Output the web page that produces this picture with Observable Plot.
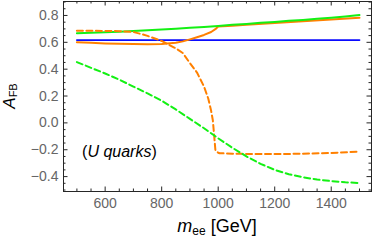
<!DOCTYPE html>
<html>
<head>
<meta charset="utf-8">
<script src="https://cdn.jsdelivr.net/npm/d3@7"></script>
<script src="https://cdn.jsdelivr.net/npm/@observablehq/plot@0.6"></script>
<style>
  html, body { margin: 0; padding: 0; background: #fff; }
  #chart { width: 374px; height: 241px; }
</style>
</head>
<body>
<div id="chart"></div>
<script>
// ---- data ----
const mee = [500,550,600,650,700,750,800,850,900,950,1000,1050,1100,1150,1200,1250,1300,1350,1400,1450,1500];

const blueSolid = [0.617,0.617,0.617,0.617,0.617,0.617,0.617,0.617,0.617,0.617,0.617,0.617,0.617,0.617,0.617,0.617,0.617,0.617,0.617,0.617,0.617];

const greenSolid = [0.668,0.671,0.675,0.679,0.684,0.689,0.695,0.701,0.708,0.715,0.722,0.730,0.737,0.745,0.752,0.760,0.767,0.775,0.783,0.792,0.803];

const greenDashed = [0.453,0.41,0.368,0.322,0.27,0.22,0.165,0.1,0.03,-0.04,-0.115,-0.185,-0.25,-0.305,-0.35,-0.382,-0.405,-0.422,-0.433,-0.442,-0.448];

const orangeSolidX = [500,550,600,650,700,750,800,850,875,900,925,950,975,990,1000,1050,1100,1200,1300,1400,1500];
const orangeSolidY = [0.600,0.596,0.592,0.589,0.587,0.586,0.588,0.597,0.607,0.622,0.638,0.655,0.677,0.698,0.718,0.724,0.731,0.744,0.757,0.770,0.783];

const orangeDashedX = [500,550,600,650,700,725,750,800,850,875,900,925,950,965,975,981,986,990,995,1000,1005,1050,1100,1200,1300,1400,1500];
const orangeDashedY = [0.686,0.686,0.685,0.683,0.677,0.663,0.648,0.61,0.555,0.52,0.445,0.375,0.27,0.18,0.09,0.02,-0.1,-0.2,-0.215,-0.222,-0.226,-0.229,-0.231,-0.232,-0.230,-0.224,-0.214];

const xMajor = [600,800,1000,1200,1400];
const xMinor = d3.range(500, 1501, 50).filter(v => !xMajor.includes(v));
const yMajor = [-0.4,-0.2,0,0.2,0.4,0.6,0.8];
const yMinor = d3.range(-10, 19).map(i => +(i*0.05).toFixed(2)).filter(v => !yMajor.some(m => Math.abs(m - v) < 1e-9));

const xDomain = [452.6, 1542.5];
const yDomain = [-0.511, 0.904];

const note = [{x: 520, y: -0.215}];

// ---- build tables ----
const zip = (xs, ys) => xs.map((x, i) => ({x, y: ys[i]}));
const blue = zip(mee, blueSolid);
const green = zip(mee, greenSolid);
const greenD = zip(mee, greenDashed);
const orange = zip(orangeSolidX, orangeSolidY);
const orangeD = zip(orangeDashedX, orangeDashedY);

const W = 374, H = 241;
const mL = 63, mR = 3, mT = 1, mB = 50;
const iW = W - mL - mR, iH = H - mT - mB;
const frameColor = "#262626";
const labelColor = "#666666";
const majorLen = 4.5, minorLen = 2.5;

const chart = Plot.plot({
  width: W, height: H,
  marginLeft: mL, marginRight: mR, marginTop: mT, marginBottom: mB,
  style: {fontFamily: "'Liberation Sans', Arial, sans-serif", fontSize: "14px", background: "#fff"},
  x: {domain: xDomain, axis: null},
  y: {domain: yDomain, axis: null},
  marks: [
    // data lines
    Plot.line(blue, {x: "x", y: "y", stroke: "rgb(10,10,255)", strokeWidth: 1.8}),
    Plot.line(orange, {x: "x", y: "y", stroke: "rgb(255,128,0)", strokeWidth: 2}),
    Plot.line(green, {x: "x", y: "y", stroke: "rgb(20,240,20)", strokeWidth: 2}),
    Plot.line(orangeD, {x: "x", y: "y", stroke: "rgb(255,128,0)", strokeWidth: 2, strokeDasharray: "6,3.5"}),
    Plot.line(greenD, {x: "x", y: "y", stroke: "rgb(20,240,20)", strokeWidth: 2, strokeDasharray: "6,3.5"}),
    // frame
    Plot.frame({stroke: frameColor, strokeWidth: 1}),
    // ticks (inward, on all four sides)
    Plot.tickX(xMajor, {x: d => d, stroke: frameColor, insetTop: iH - majorLen}),
    Plot.tickX(xMinor, {x: d => d, stroke: frameColor, insetTop: iH - minorLen}),
    Plot.tickX(xMajor, {x: d => d, stroke: frameColor, insetBottom: iH - majorLen}),
    Plot.tickX(xMinor, {x: d => d, stroke: frameColor, insetBottom: iH - minorLen}),
    Plot.tickY(yMajor, {y: d => d, stroke: frameColor, insetRight: iW - majorLen}),
    Plot.tickY(yMinor, {y: d => d, stroke: frameColor, insetRight: iW - minorLen}),
    Plot.tickY(yMajor, {y: d => d, stroke: frameColor, insetLeft: iW - majorLen}),
    Plot.tickY(yMinor, {y: d => d, stroke: frameColor, insetLeft: iW - minorLen}),
    // tick labels
    Plot.axisX({ticks: xMajor, tickSize: 0, tickPadding: 7, tickFormat: d => String(d), color: labelColor, fontSize: 14, label: null}),
    Plot.axisY({ticks: yMajor, tickSize: 0, tickPadding: 5, tickFormat: d => (d < 0 ? "\u2212" : "") + Math.abs(d).toFixed(1), color: labelColor, fontSize: 14, label: null})
  ]
});

document.getElementById("chart").appendChild(chart);

// rich-text labels
const svg = d3.select(chart);
const xPix = d3.scaleLinear().domain(xDomain).range([mL, W - mR]);
const yPix = d3.scaleLinear().domain(yDomain).range([H - mB, mT]);
const ff = "'Liberation Sans', Arial, sans-serif";

// x axis label: m_ee [GeV]
const xl = svg.append("text")
  .attr("x", mL + iW / 2).attr("y", 232)
  .attr("text-anchor", "middle")
  .attr("font-family", ff).attr("fill", "#000");
xl.append("tspan").attr("font-size", 18).attr("font-style", "italic").text("m");
xl.append("tspan").attr("font-size", 12).attr("dy", 3).text("ee");
xl.append("tspan").attr("font-size", 18).attr("dy", -3).text(" [GeV]");

// y axis label: A_FB
const yl = svg.append("text")
  .attr("transform", `translate(15,${mT + iH / 2}) rotate(-90)`)
  .attr("text-anchor", "middle")
  .attr("font-family", ff).attr("fill", "#000");
yl.append("tspan").attr("font-size", 17).attr("font-style", "italic").text("A");
yl.append("tspan").attr("font-size", 11).attr("dy", 2).text("FB");

// annotation: (U quarks)
const nt = svg.append("text")
  .attr("x", xPix(note[0].x)).attr("y", yPix(note[0].y))
  .attr("dy", "0.35em")
  .attr("text-anchor", "start")
  .attr("font-family", ff).attr("font-size", 16).attr("fill", "#000");
nt.append("tspan").text("(");
nt.append("tspan").attr("font-style", "italic").text("U quarks");
nt.append("tspan").text(")");
</script>
</body>
</html>
